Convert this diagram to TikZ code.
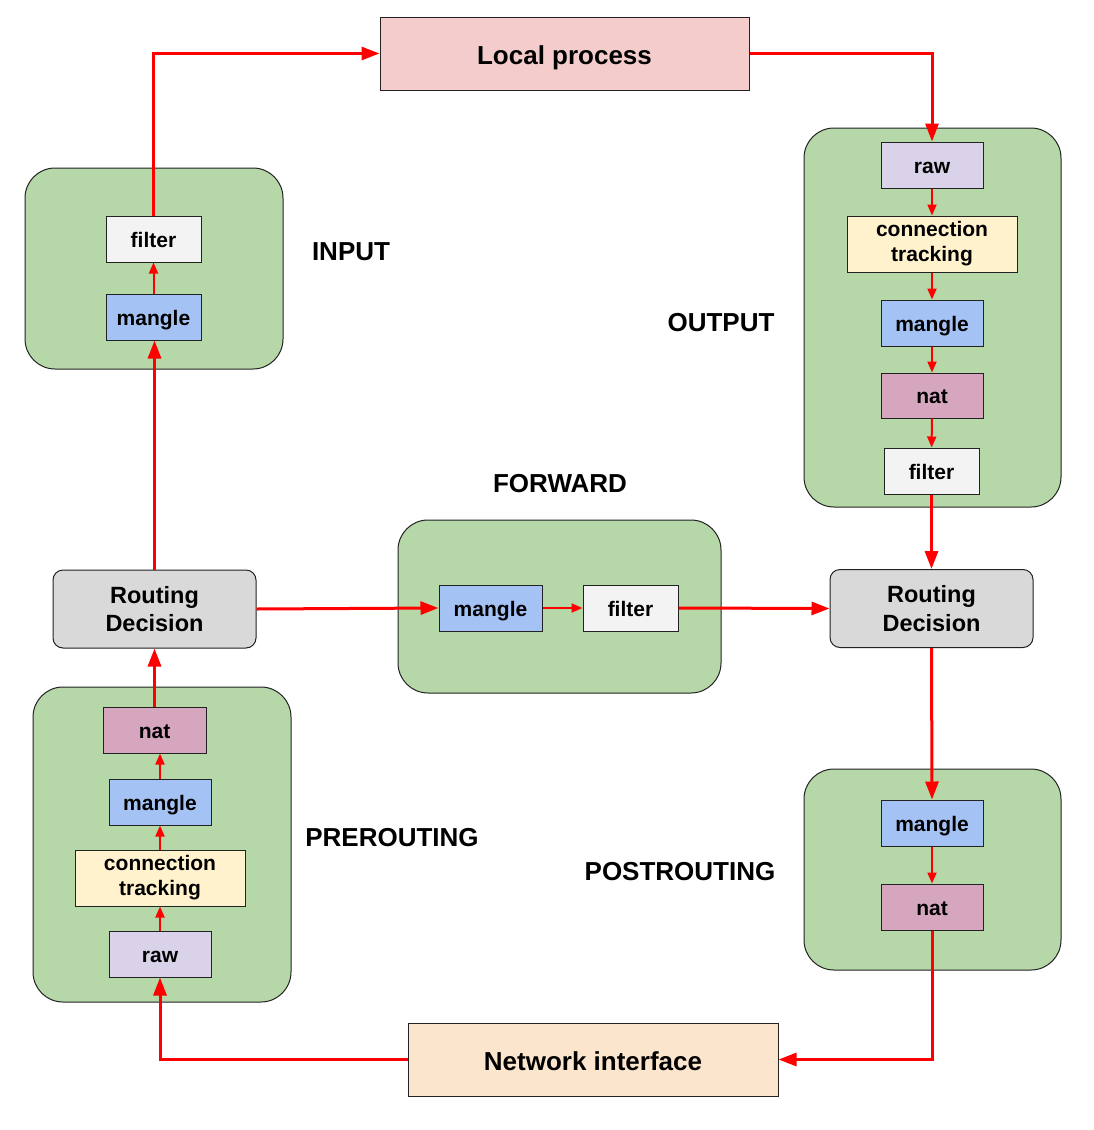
\documentclass[tikz,border=0pt]{standalone}
\usepackage{fontspec}
\setmainfont{Liberation Sans}
\usetikzlibrary{arrows.meta}
\definecolor{grn}{HTML}{B6D7A8}
\definecolor{lp}{HTML}{F4CCCC}
\definecolor{nif}{HTML}{FCE5CD}
\definecolor{mng}{HTML}{A4C2F4}
\definecolor{flt}{HTML}{F3F3F3}
\definecolor{rw}{HTML}{D9D2E9}
\definecolor{ctk}{HTML}{FFF2CC}
\definecolor{nt}{HTML}{D5A6BD}
\definecolor{rdc}{HTML}{D9D9D9}
\definecolor{edge}{HTML}{222222}
\tikzset{
  chainbox/.style={draw=edge, line width=1pt, fill=grn, rounded corners=30pt},
  tbl/.style={draw=edge, line width=1pt, inner sep=0pt, minimum height=46pt,
    font=\fontsize{21}{25}\selectfont\bfseries, align=center},
  one/.style={text height=16pt, text depth=0pt},
  big/.style={draw=edge, line width=1pt, inner sep=0pt, text height=21pt, text depth=0pt,
    font=\fontsize{26}{30}\selectfont\bfseries},
  route/.style={draw=edge, line width=1pt, inner sep=0pt, fill=rdc, rounded corners=10pt,
    minimum width=203pt, minimum height=78pt, align=center, font=\fontsize{23.5}{28.5}\selectfont\bfseries},
  lbl/.style={font=\fontsize{26}{30}\selectfont\bfseries, inner sep=0pt},
  thickarrow/.style={draw=red, line width=3pt, -{Triangle[length=18pt,width=13pt]}},
  thinarrow/.style={draw=red, line width=2pt, -{Triangle[length=11pt,width=9pt]}}
}
\begin{document}
\begin{tikzpicture}[x=1pt,y=-1pt]
\useasboundingbox (0,0) rectangle (1094,1130);
% chain containers
\draw[chainbox] (25,168) rectangle (283,369);
\draw[chainbox] (804,128) rectangle (1061,507);
\draw[chainbox] (398,520) rectangle (721,693);
\draw[chainbox] (804,769) rectangle (1061,970);
\draw[chainbox] (33,687) rectangle (291,1002);
% big boxes
\node[big, fill=lp, minimum width=369pt, minimum height=73pt] (local) at (564.5,53.5) {Local process};
\node[big, fill=nif, minimum width=370pt, minimum height=73pt] (ni) at (593,1059.5) {Network interface};
% routing decisions
\node[route] (rdl) at (154.5,609) {Routing\\Decision};
\node[route] (rdr) at (931.5,608.5) {Routing\\Decision};
% INPUT
\node[tbl, one, fill=flt, minimum width=95pt] (inf) at (153.5,239) {filter};
\node[tbl, one, fill=mng, minimum width=95pt] (inmang) at (153.5,317) {mangle};
% OUTPUT
\node[tbl, one, fill=rw, minimum width=102pt] (oraw) at (932,165) {raw};
\node[tbl, fill=ctk, minimum width=170pt, minimum height=56pt] (oct) at (932,244) {connection\\tracking};
\node[tbl, one, fill=mng, minimum width=102pt] (omang) at (932,323) {mangle};
\node[tbl, one, fill=nt, minimum width=102pt, minimum height=45pt] (onat) at (932,395.5) {nat};
\node[tbl, one, fill=flt, minimum width=95pt] (ofilt) at (931.5,471) {filter};
% FORWARD
\node[tbl, one, fill=mng, minimum width=103pt] (fmang) at (490.5,608) {mangle};
\node[tbl, one, fill=flt, minimum width=95pt] (ffilt) at (630.5,608) {filter};
% POSTROUTING
\node[tbl, one, fill=mng, minimum width=102pt] (pmang) at (932,823) {mangle};
\node[tbl, one, fill=nt, minimum width=102pt] (pnat) at (932,907) {nat};
% PREROUTING
\node[tbl, one, fill=nt, minimum width=103pt] (prnat) at (154.5,730) {nat};
\node[tbl, one, fill=mng, minimum width=102pt] (prmang) at (160,802) {mangle};
\node[tbl, fill=ctk, minimum width=170pt, minimum height=56pt] (prct) at (160,878) {connection\\tracking};
\node[tbl, one, fill=rw, minimum width=102pt] (prraw) at (160,954) {raw};
% labels
\node[lbl] (linput) at (351,252) {INPUT};
\node[lbl] (loutput) at (721,323) {OUTPUT};
\node[lbl] (lforward) at (560,484) {FORWARD};
\node[lbl] (lpre) at (392,838) {PREROUTING};
\node[lbl] (lpost) at (680,872) {POSTROUTING};
% connectors
\draw[thickarrow] (inf.north) |- (local.west);
\draw[thickarrow] (local.east) -| (oraw.north);
\draw[thinarrow] (oraw) -- (oct);
\draw[thinarrow] (oct) -- (omang);
\draw[thinarrow] (omang) -- (onat);
\draw[thinarrow] (onat) -- (ofilt);
\draw[thickarrow] (ofilt.south) -- (rdr.north);
\draw[thickarrow] (rdr.south) -- (pmang.north);
\draw[thinarrow] (pmang) -- (pnat);
\draw[thickarrow] (pnat.south) |- (ni.east);
\draw[thickarrow] (ni.west) -| (prraw.south);
\draw[thinarrow] (prraw) -- (prct);
\draw[thinarrow] (prct) -- (prmang);
\draw[thinarrow] (prmang.north) -- (prmang.north |- prnat.south);
\draw[thickarrow] (prnat.north) -- (prnat.north |- rdl.south);
\draw[thickarrow] (rdl.north) -- (rdl.north |- inmang.south);
\draw[thinarrow] (inmang) -- (inf);
\draw[thickarrow] (rdl.east) -- (fmang.west);
\draw[thinarrow] (fmang) -- (ffilt);
\draw[thickarrow] (ffilt.east) -- (rdr.west);
\end{tikzpicture}
\end{document}
